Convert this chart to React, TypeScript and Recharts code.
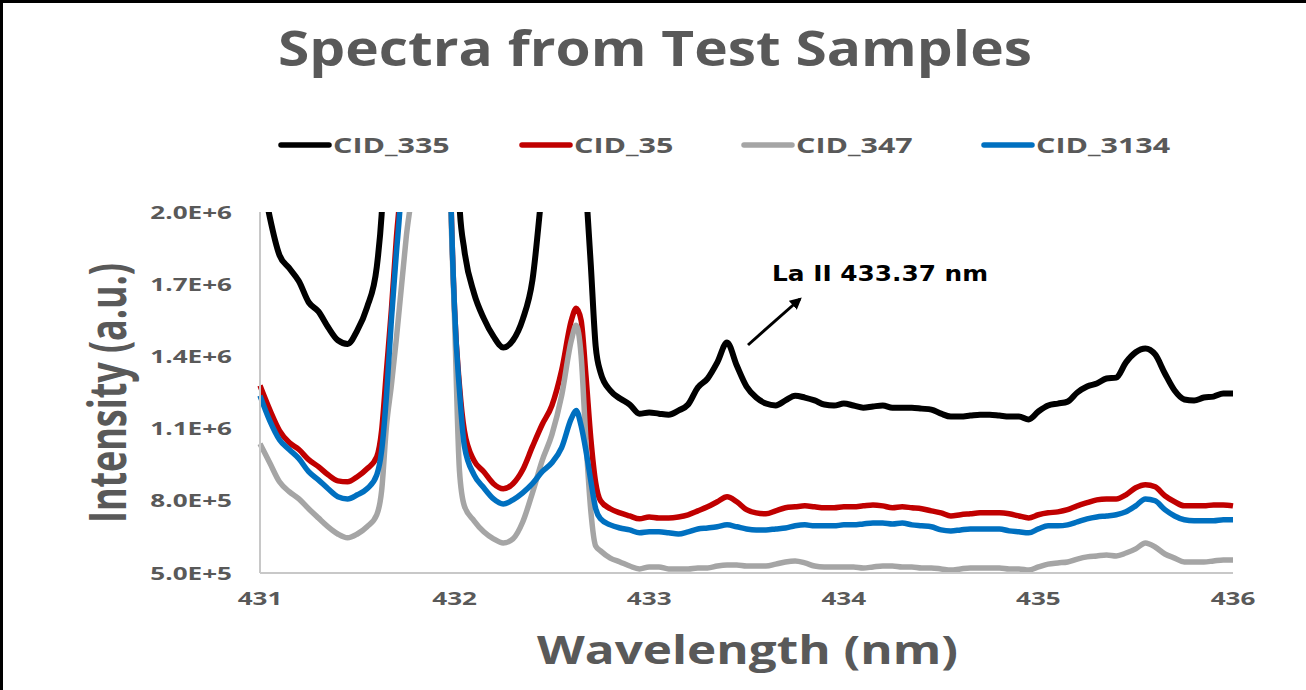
import React from "react";
import { LineChart, Line, XAxis, YAxis, Legend } from "recharts";

// wavelength grid (nm), denser around the steep peaks
const wavelength = [
  431.0, 431.05, 431.1, 431.15, 431.2, 431.25, 431.3, 431.35, 431.4, 431.45, 431.5, 431.55, 431.6,
  431.625, 431.65, 431.675, 431.7, 431.725, 431.75, 431.8, 431.85, 431.9, 431.95, 431.975, 432.0, 432.025,
  432.05, 432.1, 432.15, 432.2, 432.25, 432.3, 432.35, 432.4, 432.45, 432.5, 432.55, 432.6,
  432.625, 432.65, 432.675, 432.7, 432.725, 432.75,
  432.8, 432.85, 432.9, 432.95, 433.0, 433.05, 433.1, 433.15, 433.2, 433.25, 433.3, 433.35, 433.4,
  433.45, 433.5, 433.55, 433.6, 433.65, 433.7, 433.75, 433.8, 433.85, 433.9, 433.95, 434.0, 434.05,
  434.1, 434.15, 434.2, 434.25, 434.3, 434.35, 434.4, 434.45, 434.5, 434.55, 434.6, 434.65, 434.7,
  434.75, 434.8, 434.85, 434.9, 434.95, 435.0, 435.05, 435.1, 435.15, 435.2, 435.25, 435.3, 435.35,
  435.4, 435.45, 435.5, 435.55, 435.6, 435.65, 435.7, 435.75, 435.8, 435.85, 435.9, 435.95, 436.0,
];

const cid335 = [
  2200000, 1980000, 1821000, 1767000, 1712000, 1625000, 1587000, 1521000, 1467000, 1452000, 1508000, 1604000, 1771000,
  1988000, 2400000, 2900000, 3400000, 4000000, 5000000, 7000000, 9000000, 9000000, 6000000, 4000000, 3000000, 2030000,
  1842000, 1662000, 1558000, 1483000, 1437000, 1467000, 1554000, 1717000, 2100000, 2500000, 2800000, 2900000,
  2700000, 2400000, 2100000, 1779000, 1442000, 1333000,
  1258000, 1225000, 1200000, 1162000, 1167000, 1162000, 1158000, 1175000, 1200000, 1271000, 1308000, 1375000, 1458000,
  1362000, 1275000, 1229000, 1204000, 1196000, 1217000, 1237000, 1229000, 1217000, 1200000, 1196000, 1204000, 1196000,
  1187000, 1192000, 1196000, 1187000, 1187000, 1187000, 1183000, 1179000, 1162000, 1150000, 1150000, 1154000, 1158000,
  1158000, 1154000, 1150000, 1150000, 1138000, 1171000, 1196000, 1204000, 1212000, 1250000, 1275000, 1287000, 1308000,
  1312000, 1375000, 1417000, 1433000, 1408000, 1329000, 1258000, 1221000, 1217000, 1229000, 1233000, 1246000, 1246000,
];

const cid35 = [
  1279000, 1179000, 1092000, 1042000, 1013000, 971000, 942000, 908000, 883000, 879000, 900000, 933000, 983000,
  1092000, 1342000, 1592000, 1883000, 2150000, 2700000, 4000000, 6000000, 6000000, 4000000, 2300000, 1592000, 1279000,
  1092000, 967000, 921000, 871000, 850000, 871000, 929000, 1025000, 1117000, 1196000, 1342000, 1550000,
  1600000, 1550000, 1320000, 1058000, 875000, 800000,
  767000, 750000, 737000, 725000, 733000, 729000, 729000, 733000, 742000, 758000, 775000, 796000, 817000,
  796000, 763000, 750000, 746000, 758000, 771000, 775000, 779000, 775000, 771000, 771000, 775000, 775000,
  779000, 783000, 779000, 771000, 775000, 771000, 767000, 758000, 750000, 737000, 742000, 746000, 750000,
  750000, 750000, 746000, 737000, 729000, 742000, 750000, 754000, 763000, 779000, 792000, 804000, 808000,
  808000, 825000, 854000, 867000, 858000, 821000, 796000, 779000, 779000, 779000, 783000, 783000, 779000,
];

const cid347 = [
  1037000, 958000, 879000, 838000, 808000, 767000, 729000, 692000, 662000, 646000, 662000, 692000, 742000,
  842000, 1112000, 1279000, 1467000, 1675000, 1883000, 2300000, 4000000, 5000000, 3500000, 2200000, 1550000, 925000,
  779000, 717000, 671000, 642000, 625000, 642000, 712000, 833000, 967000, 1075000, 1237000, 1467000,
  1529000, 1404000, 1050000, 758000, 612000, 592000,
  562000, 546000, 529000, 517000, 525000, 525000, 517000, 517000, 517000, 521000, 521000, 529000, 533000,
  533000, 529000, 529000, 529000, 537000, 546000, 550000, 542000, 529000, 525000, 525000, 525000, 525000,
  521000, 525000, 529000, 529000, 525000, 525000, 521000, 521000, 517000, 512000, 517000, 521000, 521000,
  521000, 521000, 517000, 517000, 512000, 525000, 537000, 542000, 546000, 558000, 567000, 571000, 575000,
  571000, 583000, 600000, 625000, 608000, 579000, 562000, 546000, 546000, 546000, 550000, 554000, 554000,
];

const cid3134 = [
  1237000, 1133000, 1054000, 1013000, 975000, 921000, 887000, 850000, 817000, 808000, 825000, 850000, 908000,
  1008000, 1237000, 1550000, 1821000, 2100000, 2700000, 4000000, 6000000, 6000000, 4000000, 2300000, 1592000, 1258000,
  1029000, 908000, 854000, 808000, 787000, 804000, 833000, 871000, 921000, 958000, 1021000, 1142000,
  1175000, 1112000, 1008000, 883000, 767000, 725000,
  700000, 687000, 679000, 667000, 671000, 671000, 667000, 662000, 671000, 683000, 687000, 692000, 700000,
  692000, 683000, 679000, 679000, 683000, 687000, 696000, 700000, 696000, 696000, 696000, 700000, 700000,
  704000, 708000, 708000, 704000, 708000, 700000, 696000, 692000, 679000, 675000, 679000, 683000, 683000,
  683000, 683000, 675000, 671000, 667000, 683000, 696000, 696000, 700000, 712000, 725000, 733000, 737000,
  742000, 754000, 779000, 808000, 800000, 763000, 737000, 721000, 717000, 717000, 717000, 721000, 721000,
];

const xTicks = [431, 432, 433, 434, 435, 436];
const yTicks = [500000, 800000, 1100000, 1400000, 1700000, 2000000];

const series = [
  { key: "cid335", name: "CID_335", color: "#000000", width: 6 },
  { key: "cid35", name: "CID_35", color: "#c00000", width: 5.5 },
  { key: "cid347", name: "CID_347", color: "#a5a5a5", width: 5.5 },
  { key: "cid3134", name: "CID_3134", color: "#0070c0", width: 5.5 },
];

const data = wavelength.map((w, i) => ({
  w,
  cid335: cid335[i],
  cid35: cid35[i],
  cid347: cid347[i],
  cid3134: cid3134[i],
}));

const GREY = "#595959";
const FONT = "'Open Sans', sans-serif";
const STRETCH = 1.45;

const fmtSci = (v: number) => v.toExponential(1).toUpperCase();

const YTick = (props: any) => {
  const { x, y, payload } = props;
  return (
    <g transform={`translate(${x},${y}) scale(${STRETCH},1)`}>
      <text x={0} y={0} dy={6.5} textAnchor="end" fontFamily={FONT} fontWeight={700} fontSize={18} fill={GREY}>
        {fmtSci(payload.value)}
      </text>
    </g>
  );
};

const XTick = (props: any) => {
  const { x, y, payload } = props;
  return (
    <g transform={`translate(${x},${y}) scale(${STRETCH},1)`}>
      <text x={0} y={32} textAnchor="middle" fontFamily={FONT} fontWeight={700} fontSize={18} fill={GREY}>
        {payload.value}
      </text>
    </g>
  );
};

const legendLeft = [278, 519, 741, 981];

const LegendContent = (props: any) => {
  const items = props.payload || [];
  // keep the series order (the payload comes back sorted by name)
  const ordered = series
    .map((s) => items.find((it: any) => it.dataKey === s.key))
    .filter(Boolean);
  return (
    <svg width={1306} height={40} style={{ display: "block" }}>
      {ordered.map((it: any, i: number) => {
        const x = legendLeft[i];
        return (
          <g key={it.value}>
            <line x1={x + 3} y1={20} x2={x + 51} y2={20} stroke={it.color} strokeWidth={5.5} strokeLinecap="round" />
            <g transform={`translate(${x + 55},27.5) scale(${STRETCH},1)`}>
              <text x={0} y={0} fontFamily={FONT} fontWeight={700} fontSize={21} fill={GREY}>
                {it.value}
              </text>
            </g>
          </g>
        );
      })}
    </svg>
  );
};

export default function App() {
  return (
    <div style={{ position: "absolute", left: 0, top: 0, width: 1306, height: 690, background: "#fff" }}>
      <LineChart
        width={1306}
        height={690}
        data={data}
        margin={{ top: 212, right: 73, bottom: 67, left: 160 }}
      >
        <XAxis
          dataKey="w"
          type="number"
          domain={[431, 436]}
          ticks={xTicks}
          interval={0}
          height={50}
          tickLine={false}
          tickSize={0}
          tickMargin={0}
          axisLine={{ stroke: "#c8c8c8", strokeWidth: 2 }}
          tick={<XTick />}
        />
        <YAxis
          type="number"
          domain={[500000, 2000000]}
          ticks={yTicks}
          interval={0}
          allowDataOverflow
          width={100}
          tickLine={false}
          tickSize={0}
          tickMargin={28}
          axisLine={{ stroke: "#c8c8c8", strokeWidth: 2 }}
          tick={<YTick />}
        />
        <Legend
          layout="horizontal"
          verticalAlign="middle"
          align="center"
          content={<LegendContent />}
          wrapperStyle={{ position: "absolute", left: 0, top: 125, width: 1306, height: 40 }}
        />
        {series.map((s) => (
          <Line
            key={s.key}
            dataKey={s.key}
            name={s.name}
            type="monotone"
            stroke={s.color}
            strokeWidth={s.width}
            strokeLinejoin="round"
            dot={false}
            activeDot={false}
            isAnimationActive={false}
          />
        ))}
      </LineChart>
      <svg
        width={1306}
        height={690}
        style={{ position: "absolute", left: 0, top: 0, pointerEvents: "none" }}
      >
        <defs>
          <marker id="arrowHead" viewBox="0 0 10 10" refX="8" refY="5" markerWidth="4" markerHeight="4" orient="auto">
            <path d="M0,0 L10,5 L0,10 z" fill="#000" />
          </marker>
        </defs>
        <line x1={1.5} y1={0} x2={1.5} y2={690} stroke="#000" strokeWidth={3} />
        <line x1={0} y1={1.5} x2={1306} y2={1.5} stroke="#000" strokeWidth={3} />
        <text x={278} y={66} textLength={754} lengthAdjust="spacingAndGlyphs" fontFamily={FONT} fontWeight={700} fontSize={48} fill={GREY}>
          Spectra from Test Samples
        </text>
        <g transform={`translate(126,393) scale(${STRETCH},1) rotate(-90)`}>
          <text x={0} y={0} textAnchor="middle" textLength={260} lengthAdjust="spacingAndGlyphs" fontFamily={FONT} fontWeight={700} fontSize={36} fill={GREY}>
            Intensity (a.u.)
          </text>
        </g>
        <text x={537} y={664} textLength={421} lengthAdjust="spacingAndGlyphs" fontFamily={FONT} fontWeight={700} fontSize={40} fill={GREY}>
          Wavelength (nm)
        </text>
        <text x={772} y={281} textLength={216} lengthAdjust="spacingAndGlyphs" fontFamily="'DejaVu Sans', sans-serif" fontWeight={700} fontSize={22} fill="#000">
          La II 433.37 nm
        </text>
        <line x1={748} y1={345} x2={800} y2={299} stroke="#000" strokeWidth={3} markerEnd="url(#arrowHead)" />
      </svg>
    </div>
  );
}
